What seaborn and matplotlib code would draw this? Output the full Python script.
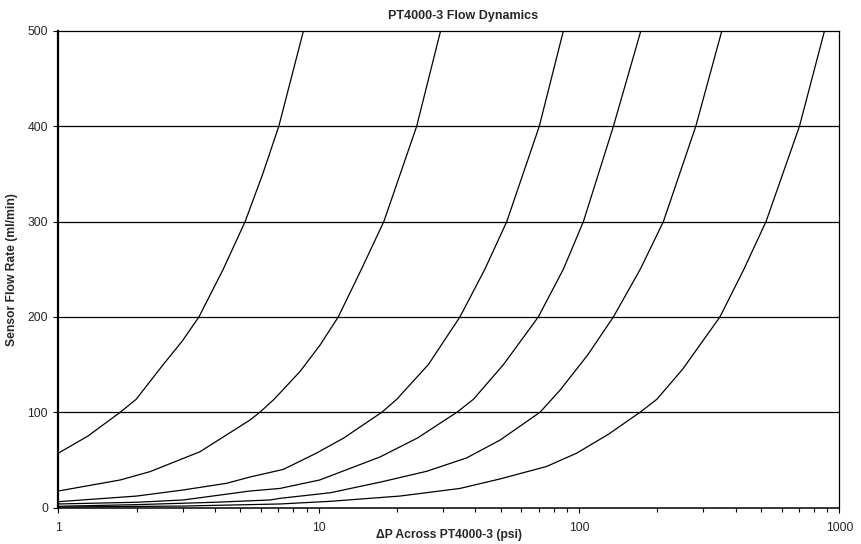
import numpy as np
import pandas as pd
import matplotlib
matplotlib.use("Agg")
import matplotlib.pyplot as plt
import seaborn as sns
from matplotlib.ticker import LogLocator, NullFormatter, FixedLocator

# curves: delta P (psi) vs sensor flow (ml/min)
dp_1 = [1, 1.3, 1.73, 1.99, 2.53, 3.0, 3.47, 4.3, 5.22, 6.1, 7.03, 8.74]
flow_1 = [57, 75, 100, 113.5, 150, 175, 200, 250, 300, 350, 400, 500]

dp_2 = [1, 1.73, 2.25, 3.5, 5.45, 5.95, 6.74, 8.47, 10.1, 11.9, 14.6, 17.8, 23.8, 29.4]
flow_2 = [17.3, 28.9, 37.6, 58.5, 91.8, 100, 113.5, 142.5, 170, 200, 250, 300, 400, 500]

dp_3 = [1, 2.0, 3.02, 4.43, 5.45, 7.32, 9.8, 12.5, 15.8, 17.5, 19.95, 26.4, 34.9, 43.5, 52.8, 70.4, 87.1]
flow_3 = [6.1, 12, 18.4, 25.4, 32, 40, 57, 73, 91.8, 100, 113.5, 150, 200, 250, 300, 400, 500]

dp_4 = [1, 2.0, 3.02, 5.45, 7.1, 10.1, 17.2, 24, 34.0, 39.3, 51.3, 69.8, 87.1, 104, 135.6, 172.8]
flow_4 = [3.7, 5.5, 7.9, 17.3, 20, 28.9, 53, 73, 100, 113.5, 150, 200, 250, 300, 400, 500]

dp_5 = [1, 2, 4, 6.5, 7.1, 11.1, 17.5, 26, 37, 49.8, 70.9, 84.5, 108, 135.6, 172, 211, 281, 353.7]
flow_5 = [1.3, 3, 5.5, 7.9, 9.6, 15.5, 27, 38, 52, 70.8, 100, 123, 160, 200, 250, 300, 400, 500]

dp_6 = [1, 3, 7.1, 11.1, 20.5, 34.9, 49.8, 75, 98, 130, 171.8, 199, 250, 348, 430, 523, 703, 877]
flow_6 = [0.5, 1.5, 3.7, 6.5, 12, 20, 30, 43, 57, 77, 100, 113.5, 145, 200, 250, 300, 400, 500]

curves = [(dp_1, flow_1), (dp_2, flow_2), (dp_3, flow_3),
          (dp_4, flow_4), (dp_5, flow_5), (dp_6, flow_6)]

y_ticks = [0, 100, 200, 300, 400, 500]
x_ticks = [1, 10, 100, 1000]

frames = []
for i, (dp, flow) in enumerate(curves):
    frames.append(pd.DataFrame({"dp": dp, "flow": flow, "curve": i}))
df = pd.concat(frames, ignore_index=True)

sns.set_theme(style="white")
plt.rcParams["font.family"] = ["Liberation Sans", "DejaVu Sans"]

fig = plt.figure(figsize=(8.62, 5.44), dpi=100)
ax = fig.add_axes([58.3 / 862, 1 - 507.5 / 544, 781 / 862, 476.5 / 544])

sns.lineplot(data=df, x="dp", y="flow", units="curve", estimator=None,
             sort=False, color="black", linewidth=0.9, ax=ax, legend=False)

ax.set_xscale("log")
ax.set_xlim(1, 1000)
ax.set_ylim(0, 500)

ax.xaxis.set_major_locator(FixedLocator(x_ticks))
ax.set_xticklabels([str(t) for t in x_ticks])
ax.xaxis.set_minor_locator(LogLocator(base=10, subs=np.arange(2, 10)))
ax.xaxis.set_minor_formatter(NullFormatter())
ax.set_yticks(y_ticks)

ax.tick_params(axis="both", which="major", direction="out", length=3.5,
               width=0.8, color="black", labelsize=8.7)
ax.tick_params(axis="x", which="minor", direction="out", length=3,
               width=0.8, color="black", bottom=True)
ax.tick_params(axis="x", which="major", bottom=True, pad=7)
ax.tick_params(axis="y", which="major", left=True, pad=4)

# horizontal gridlines only
for y in y_ticks[1:-1]:
    ax.axhline(y, color="black", linewidth=0.9, zorder=0)

for side in ["top", "right"]:
    ax.spines[side].set_color("black")
    ax.spines[side].set_linewidth(0.9)
ax.spines["left"].set_color("black")
ax.spines["left"].set_linewidth(1.6)
ax.spines["bottom"].set_color("black")
ax.spines["bottom"].set_linewidth(1.1)

ax.set_xlabel("ΔP Across PT4000-3 (psi)", fontsize=8.7, fontweight="bold", va="center")
ax.set_ylabel("Sensor Flow Rate (ml/min)", fontsize=8.7, fontweight="bold", va="center")
# place labels where the reference has them (pixel positions -> axes coords)
ax.xaxis.set_label_coords((449 - 58.3) / 781, (507.5 - 535) / 476.5)
ax.yaxis.set_label_coords((12 - 58.3) / 781, (507.5 - 270) / 476.5)
fig.text(463 / 862, 1 - 16 / 544, "PT4000-3 Flow Dynamics", fontsize=9,
         fontweight="bold", ha="center", va="center")

fig.savefig("out.png", dpi=100)
